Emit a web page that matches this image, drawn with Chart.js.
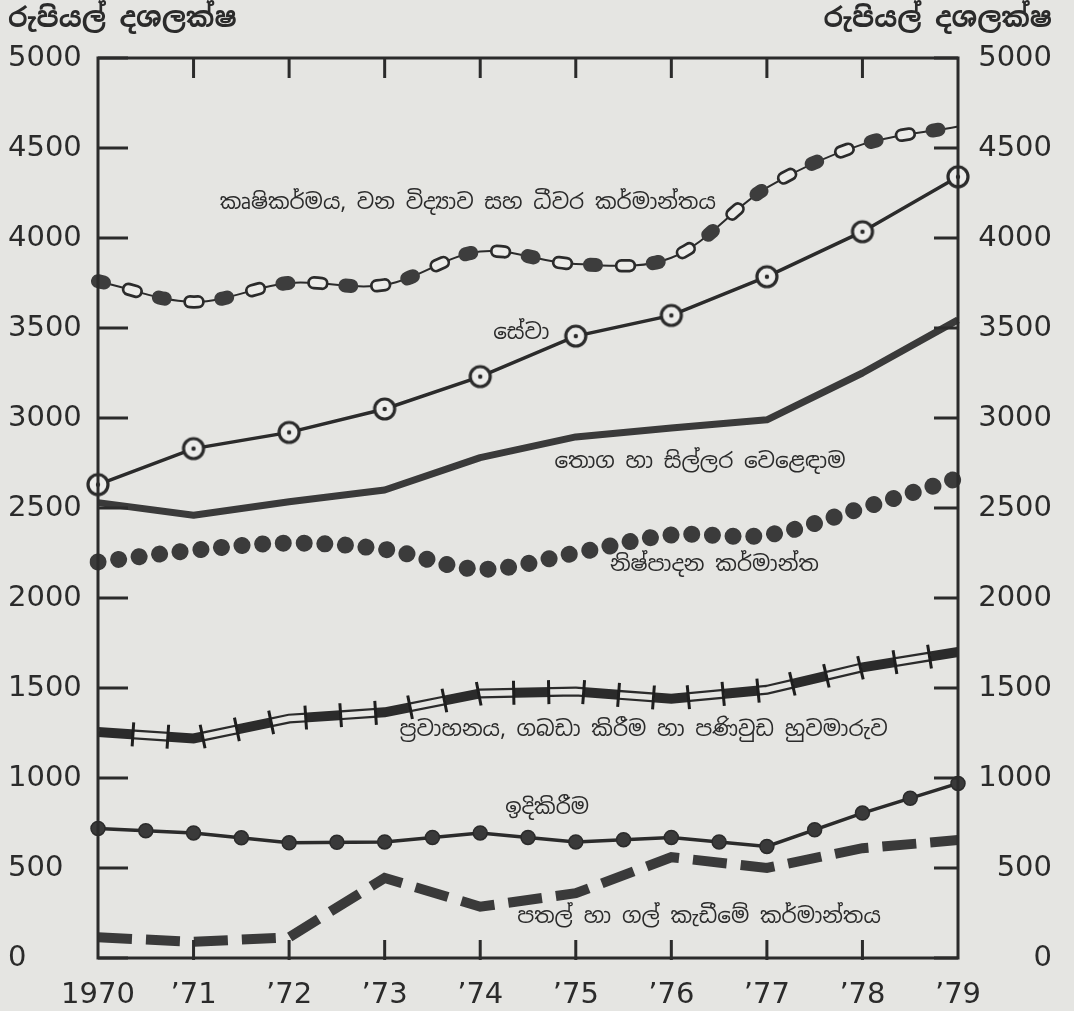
<!DOCTYPE html>
<html>
<head>
<meta charset="utf-8">
<script src="https://cdn.jsdelivr.net/npm/chart.js@4.4.1/dist/chart.umd.min.js"></script>
<style>
    html, body { margin: 0; padding: 0; background: #e5e5e2; }
    #contenedor { width: 1074px; height: 1011px; }
</style>
</head>
<body>
<div id="contenedor"><canvas id="grafico" width="1074" height="1011"></canvas></div>
<script>
// 1. Datos (rupias, millones)
const anios = ['1970', '’71', '’72', '’73', '’74', '’75', '’76', '’77', '’78', '’79'];
const ticksY = [0, 500, 1000, 1500, 2000, 2500, 3000, 3500, 4000, 4500, 5000];

const agricultura  = [3760, 3645, 3750, 3740, 3925, 3855, 3890, 4280, 4520, 4620];
const servicios    = [2630, 2830, 2920, 3050, 3230, 3455, 3570, 3785, 4035, 4340];
const comercio     = [2530, 2460, 2535, 2600, 2780, 2895, 2945, 2990, 3250, 3545];
const manufactura  = [2200, 2265, 2305, 2270, 2160, 2250, 2350, 2350, 2500, 2665];
const transporte   = [1255, 1220, 1330, 1365, 1470, 1480, 1440, 1490, 1615, 1700];
const construccion = [720, 695, 640, 645, 695, 645, 670, 620, 805, 970];
const mineria      = [115, 90, 115, 445, 285, 360, 560, 500, 610, 655];

const tituloEje = 'රුපියල් දශලක්ෂ';

// etiquetas dentro del gráfico: [texto, centro x (índice), valor y]
const etiquetas = [
    ['කෘෂිකර්මය, වන විද්‍යාව සහ ධීවර කර්මාන්තය', 3.87, 4194],
    ['සේවා', 4.43, 3472],
    ['තොග හා සිල්ලර වෙළෙඳාම', 6.30, 2756],
    ['නිෂ්පාදන කර්මාන්ත', 6.45, 2183],
    ['ප්‍රවාහනය, ගබඩා කිරීම හා පණිවුඩ හුවමාරුව', 5.71, 1265],
    ['ඉදිකිරීම', 4.70, 833],
    ['පතල් හා ගල් කැඩීමේ කර්මාන්තය', 6.29, 228]
];

const TINTA = '#2b2b2b';
const PAPEL = '#e5e5e2';

// 2. Marcador de "servicios": círculo con punto central
function marcadorServicio() {
    const c = document.createElement('canvas');
    c.width = 26; c.height = 26;
    const g = c.getContext('2d');
    g.beginPath(); g.arc(13, 13, 10, 0, Math.PI * 2);
    g.fillStyle = '#ececea'; g.fill();
    g.lineWidth = 3.2; g.strokeStyle = TINTA; g.stroke();
    g.beginPath(); g.arc(13, 13, 2.2, 0, Math.PI * 2);
    g.fillStyle = TINTA; g.fill();
    return c;
}

// píxeles de una serie a partir de las escalas
function puntosSerie(chart, valores) {
    const x = chart.scales.x, y = chart.scales.y;
    return valores.map((v, i) => ({ x: x.getPixelForValue(i), y: y.getPixelForValue(v) }));
}

// rayas perpendiculares a lo largo de la línea de transporte
function rayasTransversales(ctx, puntos, paso, largo) {
    let resto = paso;
    ctx.beginPath();
    for (let i = 0; i < puntos.length - 1; i++) {
        const p = puntos[i], q = puntos[i + 1];
        const dx = q.x - p.x, dy = q.y - p.y;
        const L = Math.hypot(dx, dy);
        const ux = dx / L, uy = dy / L;
        let s = resto;
        while (s <= L) {
            const cx = p.x + ux * s, cy = p.y + uy * s;
            ctx.moveTo(cx - uy * largo / 2, cy + ux * largo / 2);
            ctx.lineTo(cx + uy * largo / 2, cy - ux * largo / 2);
            s += paso;
        }
        resto = s - L;
    }
    ctx.stroke();
}

// 3. Plugin: fondo, marco, marcas, títulos y etiquetas
const decoracion = {
    id: 'decoracion',
    beforeDraw(chart) {
        const ctx = chart.ctx;
        ctx.save();
        ctx.fillStyle = PAPEL;
        ctx.fillRect(0, 0, chart.width, chart.height);
        ctx.restore();
    },
    afterDraw(chart) {
        const ctx = chart.ctx;
        const a = chart.chartArea;
        const x = chart.scales.x;
        const y = chart.scales.y;

        // rayas de transporte
        ctx.save();
        ctx.setLineDash([]);
        ctx.strokeStyle = '#1e1e1e';
        ctx.lineWidth = 3;
        ctx.lineCap = 'butt';
        rayasTransversales(ctx, puntosSerie(chart, transporte), 35, 24);
        ctx.restore();

        // puntos intermedios de construcción
        const pc = puntosSerie(chart, construccion);
        ctx.save();
        ctx.fillStyle = '#3a3a3a';
        ctx.strokeStyle = TINTA;
        ctx.lineWidth = 1.5;
        for (let i = 0; i < pc.length - 1; i++) {
            ctx.beginPath();
            ctx.arc((pc[i].x + pc[i + 1].x) / 2, (pc[i].y + pc[i + 1].y) / 2, 7, 0, Math.PI * 2);
            ctx.fill(); ctx.stroke();
        }
        ctx.restore();

        // marco
        ctx.save();
        ctx.setLineDash([]);
        ctx.strokeStyle = TINTA;
        ctx.lineWidth = 3;
        ctx.strokeRect(a.left, a.top, a.right - a.left, a.bottom - a.top);

        // marcas interiores del eje y
        ticksY.forEach(v => {
            const py = y.getPixelForValue(v);
            ctx.beginPath();
            ctx.moveTo(a.left, py); ctx.lineTo(a.left + 30, py);
            ctx.moveTo(a.right, py); ctx.lineTo(a.right - 24, py);
            ctx.stroke();
        });
        // marcas arriba y abajo
        for (let i = 1; i < anios.length - 1; i++) {
            const px = x.getPixelForValue(i);
            ctx.beginPath();
            ctx.moveTo(px, a.top); ctx.lineTo(px, a.top + 20);
            ctx.moveTo(px, a.bottom + 2); ctx.lineTo(px, a.bottom - 18);
            ctx.stroke();
        }
        ctx.restore();

        // etiquetas de series
        ctx.save();
        ctx.fillStyle = TINTA;
        ctx.font = '21.5px "Noto Sans Sinhala", "Noto Sans", sans-serif';
        ctx.textAlign = 'center';
        ctx.textBaseline = 'middle';
        etiquetas.forEach(e => {
            ctx.fillText(e[0], x.getPixelForValue(e[1]), y.getPixelForValue(e[2]));
        });

        // títulos de eje
        ctx.font = 'bold 27px "Noto Sans Sinhala", "Noto Sans", sans-serif';
        ctx.textAlign = 'left';
        ctx.fillText(tituloEje, 8, 20);
        ctx.textAlign = 'right';
        ctx.fillText(tituloEje, 1052, 20);
        ctx.restore();
    }
};

// 4. Series
const datasets = [
    // agricultura: cadena (hilo, eslabones oscuros, eslabones claros)
    { label: 'agri-claro', data: agricultura, borderColor: '#ecece9', borderWidth: 8,
      borderDash: [8, 55], borderDashOffset: 31.5, borderCapStyle: 'round', order: 1 },
    { label: 'agri-borde', data: agricultura, borderColor: TINTA, borderWidth: 13.5,
      borderDash: [8, 55], borderDashOffset: 31.5, borderCapStyle: 'round', order: 2 },
    { label: 'agri-oscuro', data: agricultura, borderColor: '#3d3d3d', borderWidth: 14,
      borderDash: [6, 57], borderCapStyle: 'round', order: 3 },
    { label: 'agricultura', data: agricultura, borderColor: TINTA, borderWidth: 2, order: 4 },

    { label: 'servicios', data: servicios, borderColor: TINTA, borderWidth: 3.5,
      pointStyle: marcadorServicio(), pointRadius: 12, tension: 0, order: 5 },

    { label: 'comercio', data: comercio, borderColor: '#3a3a3a', borderWidth: 7,
      borderJoinStyle: 'round', order: 6 },

    { label: 'manufactura', data: manufactura, borderColor: '#3b3b3b', borderWidth: 17,
      borderDash: [0.01, 20.7], borderCapStyle: 'round', order: 7 },

    // transporte: doble línea, tramos rellenos alternos
    { label: 'trans-claro', data: transporte, borderColor: '#e6e6e3', borderWidth: 5.5,
      borderDash: [35, 35], borderDashOffset: 34, order: 9 },
    { label: 'transporte', data: transporte, borderColor: TINTA, borderWidth: 10, order: 10 },

    { label: 'construccion', data: construccion, borderColor: TINTA, borderWidth: 3.5,
      pointRadius: 7, pointBackgroundColor: '#3a3a3a', pointBorderColor: TINTA, pointBorderWidth: 1.5,
      order: 11 },

    { label: 'mineria', data: mineria, borderColor: '#3a3a3a', borderWidth: 10,
      borderDash: [34, 14], order: 12 }
];

datasets.forEach(d => {
    if (d.pointRadius === undefined) d.pointRadius = 0;
    if (d.tension === undefined) d.tension = d.label.startsWith('agri') || d.label === 'manufactura' ? 0.35 : 0;
    d.fill = false;
});

const fuenteTicks = { family: 'DejaVu Sans', size: 29 };

// 5. Gráfico
window.onload = function () {
    const ctx = document.getElementById('grafico');
    new Chart(ctx, {
        type: 'line',
        data: { labels: anios, datasets: datasets },
        plugins: [decoracion],
        options: {
            responsive: false,
            animation: false,
            devicePixelRatio: 1,
            layout: { padding: { left: 8, right: 22, top: 58, bottom: 0 } },
            plugins: { legend: { display: false }, tooltip: { enabled: false } },
            scales: {
                x: {
                    grid: { display: false, drawTicks: false },
                    border: { display: false },
                    offset: false,
                    ticks: { color: TINTA, padding: 20, font: fuenteTicks },
                    afterFit: s => { s.height = 53; }
                },
                y: {
                    position: 'left', min: 0, max: 5000,
                    grid: { display: false, drawTicks: false },
                    border: { display: false },
                    afterBuildTicks: s => { s.ticks = ticksY.map(v => ({ value: v })); },
                    ticks: { color: TINTA, crossAlign: 'far', padding: 0, font: fuenteTicks,
                             callback: v => String(v) },
                    afterFit: s => { s.width = 90; }
                },
                y2: {
                    position: 'right', min: 0, max: 5000,
                    grid: { display: false, drawTicks: false },
                    border: { display: false },
                    afterBuildTicks: s => { s.ticks = ticksY.map(v => ({ value: v })); },
                    ticks: { color: TINTA, crossAlign: 'far', padding: 0, font: fuenteTicks,
                             callback: v => String(v) },
                    afterFit: s => { s.width = 94; }
                }
            }
        }
    });
};
</script>
</body>
</html>
